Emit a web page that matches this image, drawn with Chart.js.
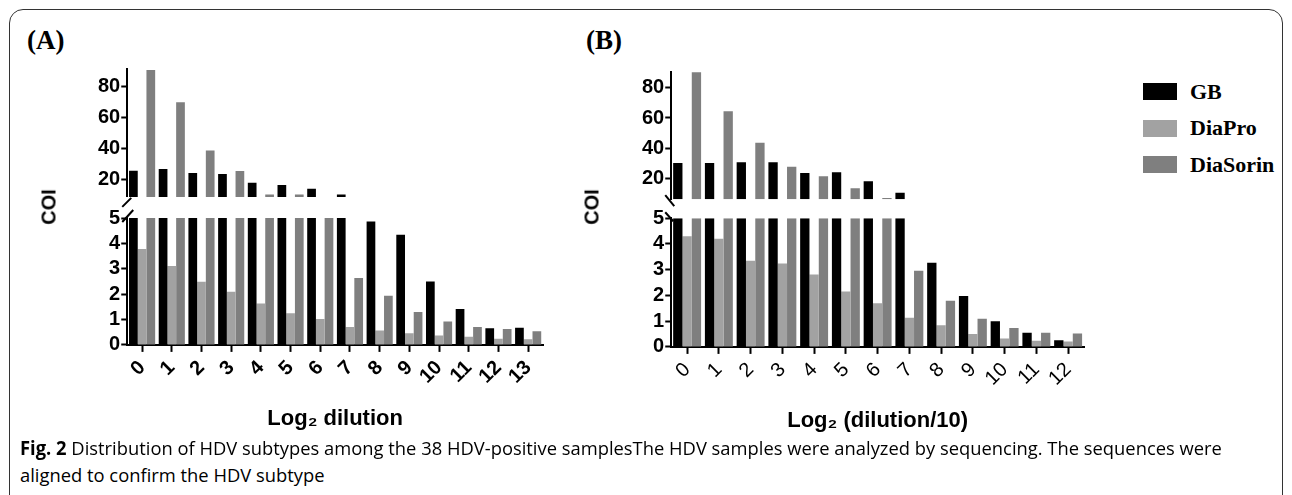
<!DOCTYPE html>
<html>
<head>
<meta charset="utf-8">
<script src="https://cdn.jsdelivr.net/npm/chart.js@4.4.1/dist/chart.umd.min.js"></script>
<style>
  body { margin:0; width:1292px; height:495px; overflow:hidden; background:#fff; position:relative; }
  #frame { position:absolute; left:9px; top:9px; width:1272px; height:520px; border:1.5px solid #333; border-radius:14px; }
  canvas { position:absolute; top:0; }
  .letter { position:absolute; font: bold 27px "Liberation Serif", serif; line-height:1; }
  .coi { position:absolute; font: bold 20px "Liberation Sans", Arial, sans-serif; transform: translate(-50%,-50%) rotate(-90deg); white-space:nowrap; }
  .leg { position:absolute; left:1143px; height:17px; display:flex; align-items:center; font: bold 22px "Liberation Serif", serif; white-space:nowrap; }
  .leg span { display:inline-block; width:34px; height:17px; margin-right:13px; }
  .cap { position:absolute; left:20px; font: 19px "Open Sans", sans-serif; white-space:nowrap; transform-origin:left center; line-height:1; }
</style>
</head>
<body>
<div id="frame"></div>
<div class="letter" style="left:27px;top:27px">(A)</div>
<div class="letter" style="left:586px;top:27px">(B)</div>
<canvas id="chartA" width="560" height="440" style="left:0"></canvas>
<canvas id="chartB" width="540" height="440" style="left:560px"></canvas>
<div class="coi" style="left:49px;top:207px">COI</div>
<div class="coi" style="left:592px;top:207px">COI</div>
<div id="legend"></div>
<div class="cap" id="cap1" style="top:439px"><b>Fig. 2</b> Distribution of HDV subtypes among the 38 HDV-positive samplesThe HDV samples were analyzed by sequencing. The sequences were</div>
<div class="cap" id="cap2" style="top:466px">aligned to confirm the HDV subtype</div>
<script>
// panel A: Log2 dilution 0..13
const labelsA = ['0','1','2','3','4','5','6','7','8','9','10','11','12','13'];
const gbA       = [25.4, 26.5, 23.9, 23.2, 17.6, 16.1, 13.7, 10, 4.86, 4.34, 2.5, 1.41, 0.66, 0.68];
const diaProA   = [3.78, 3.11, 2.49, 2.09, 1.63, 1.25, 1.02, 0.71, 0.57, 0.46, 0.37, 0.32, 0.24, 0.22];
const diaSorinA = [90.4, 69.6, 38.4, 25.2, 10, 10, 7, 2.64, 1.94, 1.3, 0.92, 0.71, 0.63, 0.54];

// panel B: Log2 (dilution/10) 0..12
const labelsB = ['0','1','2','3','4','5','6','7','8','9','10','11','12'];
const gbB       = [30.4, 30.4, 31, 30.9, 23.9, 24.4, 18.5, 11, 3.27, 1.98, 1.0, 0.55, 0.26];
const diaProB   = [4.3, 4.2, 3.35, 3.24, 2.81, 2.15, 1.70, 1.13, 0.84, 0.5, 0.33, 0.24, 0.21];
const diaSorinB = [90, 64.4, 43.7, 28, 21.7, 13.9, 7.5, 2.96, 1.79, 1.09, 0.73, 0.55, 0.52];

const upperTicks = [20, 40, 60, 80];
const lowerTicks = [0, 1, 2, 3, 4, 5];
const seriesNames = ['GB', 'DiaPro', 'DiaSorin'];
const seriesColors = ['#000000', '#a2a2a2', '#7f7f7f'];

// legend
const legend = document.getElementById('legend');
seriesNames.forEach((name, i) => {
    const d = document.createElement('div');
    d.className = 'leg';
    d.style.top = (83 + i * 36.5) + 'px';
    d.innerHTML = '<span style="background:' + seriesColors[i] + '"></span>' + name;
    legend.appendChild(d);
});

// draws the // marks where the y axis is cut
const breakMarks = {
    id: 'breakMarks',
    afterDraw(chart, args, opts) {
        const top = chart.scales.yTop, bot = chart.scales.yBot;
        const x = chart.chartArea.left;
        const ctx = chart.ctx;
        ctx.save();
        ctx.strokeStyle = '#000';
        ctx.lineWidth = 2;
        ctx.beginPath();
        if (opts.dir > 0) {
            ctx.moveTo(x - 5, top.bottom + 10); ctx.lineTo(x + 4, top.bottom + 1);
            ctx.moveTo(x - 5, bot.top + 4); ctx.lineTo(x + 6, bot.top - 8);
        } else {
            ctx.moveTo(x - 6, top.bottom - 4); ctx.lineTo(x + 3, top.bottom + 7);
            ctx.moveTo(x - 6, bot.top - 6); ctx.lineTo(x + 2, bot.top + 3);
        }
        ctx.stroke();
        ctx.restore();
    }
};

function makeChart(id, labels, values, cfg) {
    const upper = values.map((vals, i) => ({
        label: seriesNames[i], stack: seriesNames[i], yAxisID: 'yTop',
        data: vals.map(v => v > cfg.topMin ? v : null),
        base: cfg.topMin,
        backgroundColor: seriesColors[i],
        categoryPercentage: 0.88, barPercentage: 1
    }));
    const lower = values.map((vals, i) => ({
        label: seriesNames[i], stack: seriesNames[i], yAxisID: 'yBot',
        data: vals.map(v => Math.min(v, 5)),
        backgroundColor: seriesColors[i],
        categoryPercentage: 0.88, barPercentage: 1
    }));
    const tickFont = { family: 'Liberation Sans', size: 20, weight: 'bold' };
    const yGrid = { drawOnChartArea: false, tickLength: 6, tickWidth: 2, tickColor: '#000' };
    // stacked axes are placed bottom first, so the lower segment is listed first
    return new Chart(document.getElementById(id), {
        type: 'bar',
        data: { labels: labels, datasets: upper.concat(lower) },
        plugins: [breakMarks],
        options: {
            responsive: false,
            animation: false,
            devicePixelRatio: 1,
            layout: { padding: cfg.padding },
            plugins: {
                legend: { display: false },
                tooltip: { enabled: false },
                breakMarks: { dir: cfg.dir }
            },
            scales: {
                x: {
                    offset: true,
                    grid: { offset: false, drawOnChartArea: false, tickLength: 7, tickWidth: 2, tickColor: '#000' },
                    border: { color: '#000', width: 2 },
                    ticks: { color: '#000', font: cfg.xFont, minRotation: 45, maxRotation: 45, padding: 4, autoSkip: false },
                    title: { display: true, text: cfg.xTitle, color: '#000',
                             font: { family: 'Liberation Sans', size: 22, weight: 'bold' }, padding: { top: 13, bottom: 0 } }
                },
                yBot: {
                    type: 'linear', position: 'left', stack: 'v', stackWeight: cfg.weights[2],
                    min: 0, max: 5, stacked: false,
                    afterBuildTicks: s => { s.ticks = lowerTicks.map(v => ({ value: v })); },
                    grid: yGrid, border: { color: '#000', width: 2 },
                    ticks: { color: '#000', font: tickFont, padding: 1, autoSkip: false }
                },
                yGap: {
                    type: 'linear', position: 'left', stack: 'v', stackWeight: cfg.weights[1],
                    grid: { display: false }, border: { display: false }, ticks: { display: false }
                },
                yTop: {
                    type: 'linear', position: 'left', stack: 'v', stackWeight: cfg.weights[0],
                    min: cfg.topMin, max: cfg.topMax, stacked: false,
                    afterBuildTicks: s => { s.ticks = upperTicks.map(v => ({ value: v })); },
                    grid: yGrid, border: { color: '#000', width: 2 },
                    ticks: { color: '#000', font: tickFont, padding: 1, autoSkip: false }
                }
            }
        }
    });
}

makeChart('chartA', labelsA, [gbA, diaProA, diaSorinA], {
    topMin: 8.5, topMax: 91, weights: [127, 21, 126], dir: 1,
    xTitle: 'Log\u2082 dilution',
    xFont: { family: 'Liberation Sans', size: 20, weight: 'bold' },
    padding: { left: 97, top: 69, right: 17, bottom: 8 }
});
makeChart('chartB', labelsB, [gbB, diaProB, diaSorinB], {
    topMin: 6.7, topMax: 90.2, weights: [127, 19, 128.5], dir: -1,
    xTitle: 'Log\u2082 (dilution/10)',
    xFont: { family: 'Liberation Sans', size: 20, weight: 'normal' },
    padding: { left: 81, top: 72, right: 16, bottom: 6 }
});

// squeeze the caption to the width it has in the figure
const cap1 = document.getElementById('cap1');
const cap2 = document.getElementById('cap2');
const k = 1202 / cap1.offsetWidth;
cap1.style.transform = 'scaleX(' + k + ')';
cap2.style.transform = 'scaleX(' + k + ')';
</script>
</body>
</html>
